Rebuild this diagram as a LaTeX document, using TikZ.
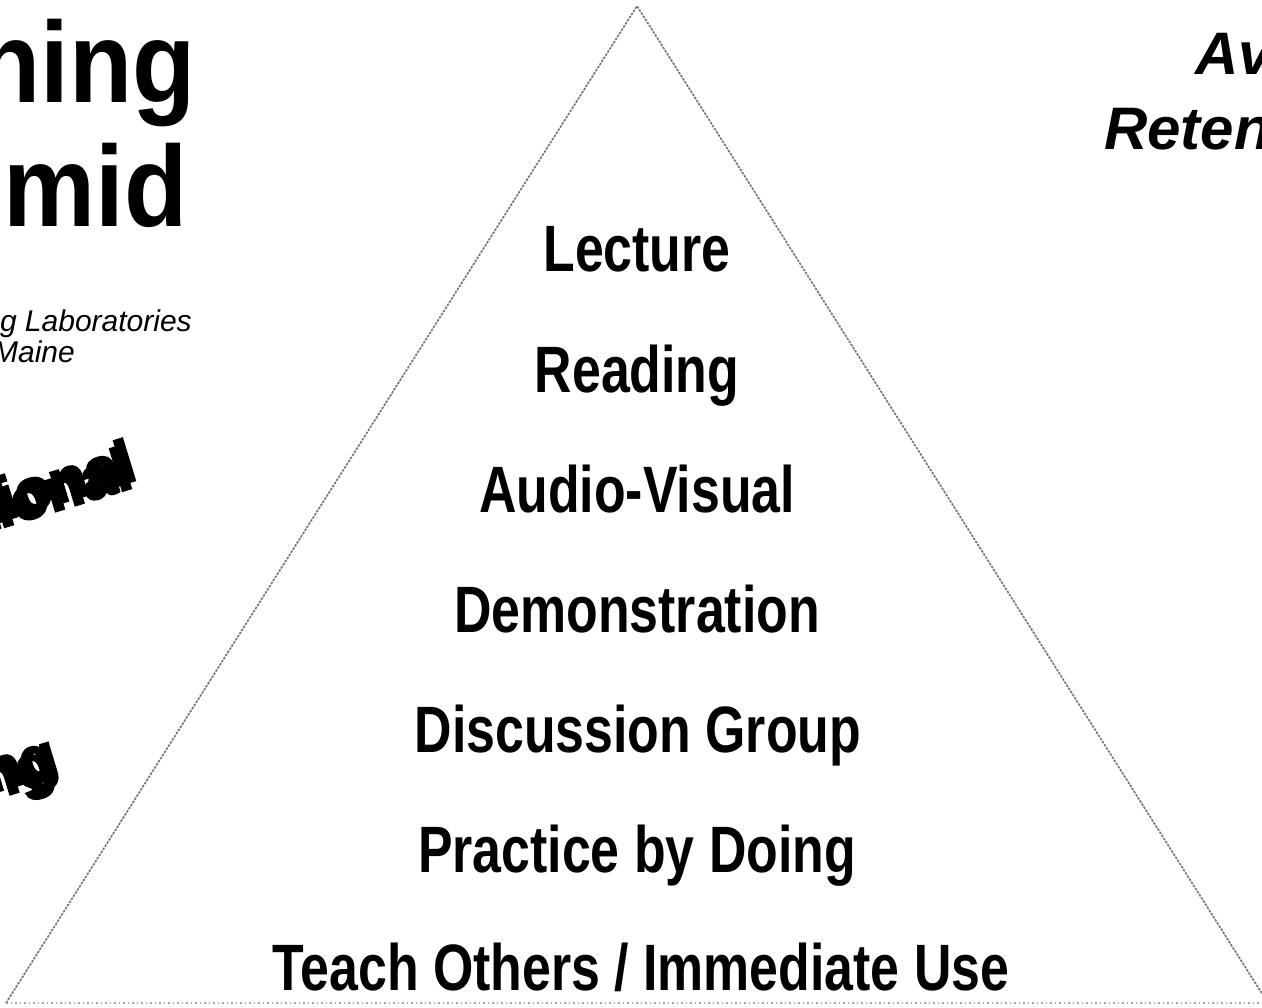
\documentclass[tikz,border=0pt]{standalone}
\usepackage{fontspec}
\newfontfamily\condfont[FakeStretch=0.79]{Liberation Sans}
\newfontfamily\titlefont[FakeStretch=0.9]{Liberation Sans}
\newfontfamily\plainsans{Liberation Sans}
\newfontfamily\blobfont[FakeBold=4]{Liberation Sans}
\begin{document}
\begin{tikzpicture}[x=1pt,y=-1pt,
  lvl/.style={inner sep=0pt, anchor=base, font=\condfont\bfseries\fontsize{65.6}{70}\selectfont},
  title/.style={inner sep=0pt, anchor=base east, font=\titlefont\bfseries\fontsize{115}{120}\selectfont},
  credit/.style={inner sep=0pt, anchor=base east, font=\plainsans\itshape\fontsize{30}{34}\selectfont},
  avg/.style={inner sep=0pt, anchor=base west, font=\plainsans\bfseries\itshape\fontsize{60}{64}\selectfont},
  blob/.style={inner sep=0pt, anchor=base east, rotate=17, font=\blobfont\bfseries\fontsize{60}{64}\selectfont},
  side/.style={draw=black!55, line width=1.6pt, dash pattern=on 2.5pt off 1.2pt},
  base/.style={draw=black!35, line width=1.2pt, dash pattern=on 1.5pt off 3pt}]
\useasboundingbox (0,0) rectangle (1262,1008);
\fill[white] (0,0) rectangle (1262,1008);
% pyramid
\coordinate (apex) at (637,6);
\coordinate (bl) at (6,1003);
\coordinate (br) at (1268,1003);
\draw[side] (bl) -- (apex) -- (br);
\draw[base] (bl) -- (br);
% levels
\node[lvl] (n1) at (637,272) {Lecture};
\node[lvl] (n2) at (637,392) {Reading};
\node[lvl] (n3) at (637,512) {Audio-Visual};
\node[lvl] (n4) at (637,632) {Demonstration};
\node[lvl] (n5) at (638,752) {Discussion Group};
\node[lvl] (n6) at (637,872) {Practice by Doing};
\node[lvl] (n7) at (641,990) {Teach Others / Immediate Use};
% left title
\node[title] (t1) at (196,103) {ning};
\node[title] (t2) at (188,227) {mid};
\node[credit] (c1) at (192,332) {g Laboratories};
\node[credit] (c2) at (75,363) {Maine};
% shadowed words (shadow, then word)
\node[blob] (bas) at (135,487) {tional};
\node[blob] (ba) at (139,479) {tional};
\node[blob] (bbs) at (57,780) {ng};
\node[blob] (bb) at (61,772) {ng};
% right heading
\node[avg] (r1) at (1195,75) {Av};
\node[avg] (r2) at (1104,150) {Reten};
\end{tikzpicture}
\end{document}
